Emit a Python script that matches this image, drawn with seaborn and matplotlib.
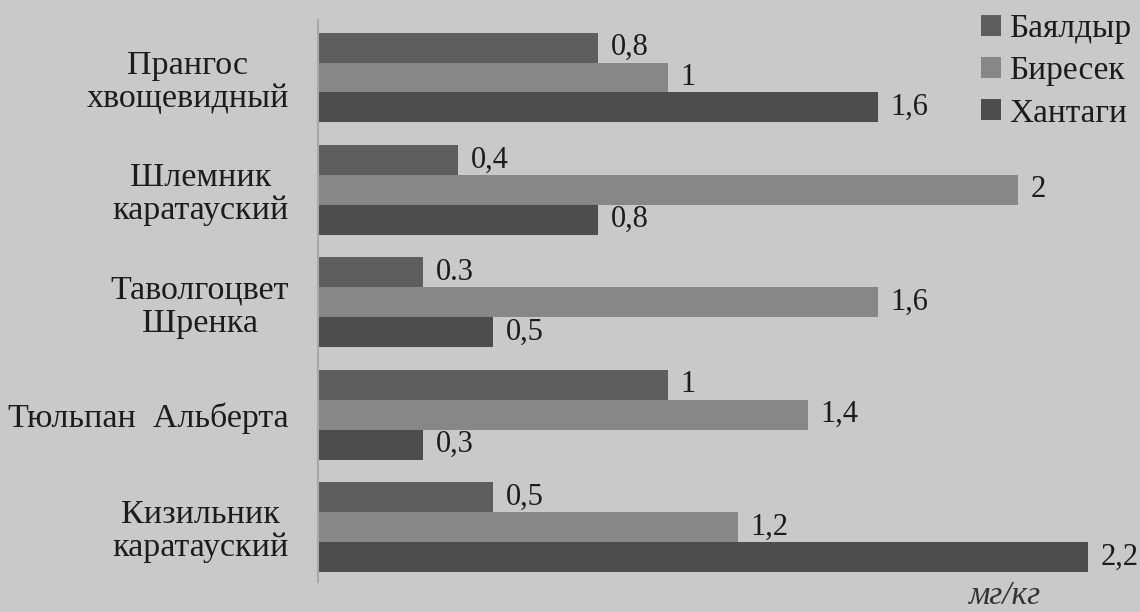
import matplotlib
matplotlib.use("Agg")
import matplotlib.pyplot as plt
import seaborn as sns
import pandas as pd

# Plant species (y categories)
species = ["Прангос\nхвощевидный", "Шлемник\nкаратауский", "Таволгоцвет\nШренка",
           "Тюльпан  Альберта", "Кизильник\nкаратауский"]
# Sampling sites (hue)
sites = ["Баялдыр", "Биресек", "Хантаги"]
# Concentration, mg/kg
bayaldyr = [0.8, 0.4, 0.3, 1.0, 0.5]
biresek = [1.0, 2.0, 1.6, 1.4, 1.2]
khantagi = [1.6, 0.8, 0.5, 0.3, 2.2]
# Printed value labels
labels_bayaldyr = ["0,8", "0,4", "0.3", "1", "0,5"]
labels_biresek = ["1", "2", "1,6", "1,4", "1,2"]
labels_khantagi = ["1,6", "0,8", "0,5", "0,3", "2,2"]

colors = ["#5e5e5e", "#878787", "#4d4d4d"]
bg = "#c9c9c9"
ink = "#1c1c1c"

rows = []
for s, vals in zip(sites, [bayaldyr, biresek, khantagi]):
    for sp, v in zip(species, vals):
        rows.append({"species": sp, "site": s, "value": v})
df = pd.DataFrame(rows)

sns.set_theme(style="white")
plt.rcParams["font.family"] = ["Liberation Serif", "DejaVu Serif"]

fig = plt.figure(figsize=(11.4, 6.12), dpi=100, facecolor=bg)
ax = fig.add_axes([0.279, 0.049, 0.7184, 0.918])
ax.set_facecolor(bg)

sns.barplot(data=df, y="species", x="value", hue="site", orient="h",
            palette=colors, width=0.8, saturation=1, linewidth=0,
            ax=ax, legend=True)

ax.set_xlim(0, 2.34)
ax.set_ylim(4.49, -0.51)

for cont, labs in zip(ax.containers, [labels_bayaldyr, labels_biresek, labels_khantagi]):
    ax.bar_label(cont, labels=labs, padding=9, fontsize=22, color=ink)

for sp in ["top", "right", "bottom"]:
    ax.spines[sp].set_visible(False)
ax.spines["left"].set_color("#a9a9a9")
ax.spines["left"].set_linewidth(1.5)
ax.set_xticks([])
ax.set_xlabel("")
ax.set_ylabel("")
ax.tick_params(axis="y", length=0, pad=21, labelsize=24.5, labelcolor=ink)
for t in ax.get_yticklabels():
    t.set_multialignment("center")
    t.set_linespacing(1.1)

leg = ax.legend(loc="upper right", bbox_to_anchor=(1.03, 1.065), frameon=False,
                fontsize=24, handlelength=0.6, handleheight=0.6,
                handletextpad=0.25, labelspacing=0.35, labelcolor=ink)

fig.text(0.882, 0.002, "мг/кг", fontsize=24, style="italic", color="#333333",
         ha="center", va="bottom")

fig.savefig("out.png", dpi=100, facecolor=bg)
